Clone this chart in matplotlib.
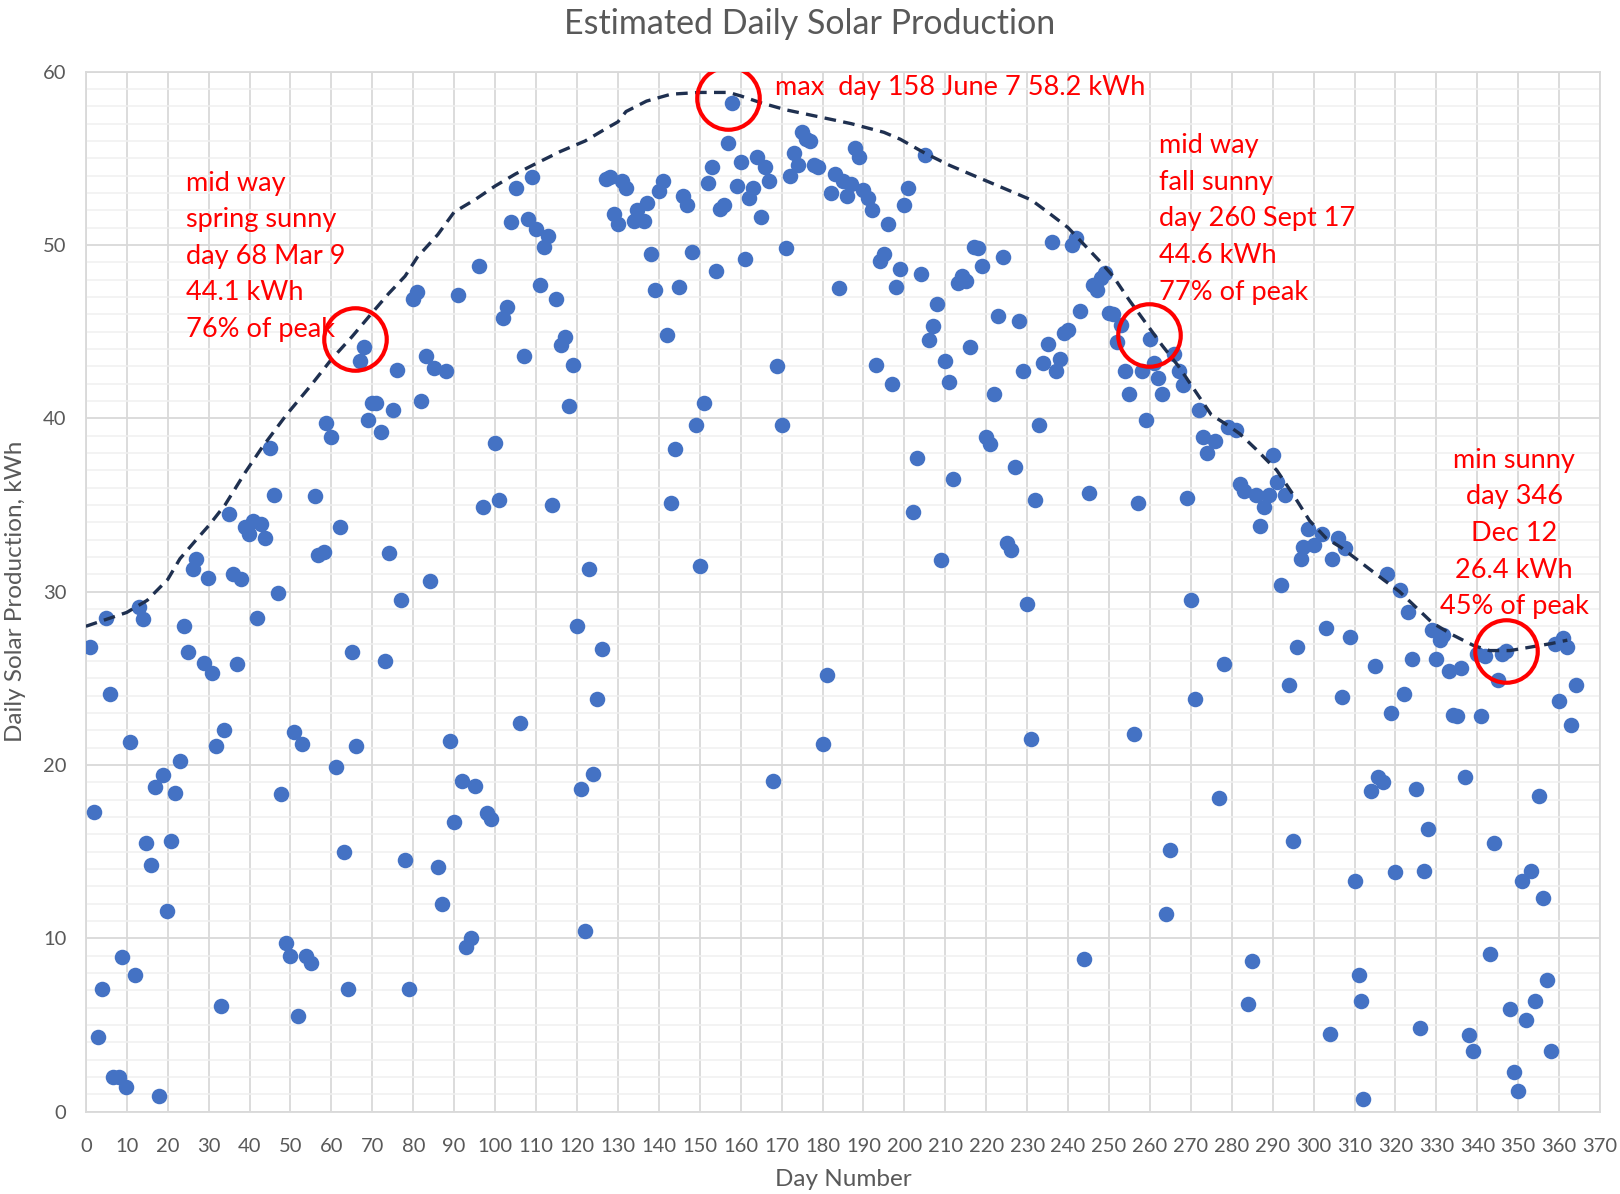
import matplotlib
matplotlib.use("Agg")
import matplotlib.pyplot as plt

plt.rcParams['font.family'] = ['Lato', 'DejaVu Sans']

# daily production (day number, kWh)
winter_days = [1, 2, 3, 4, 5, 6, 6.7, 8.1, 8.9, 9.9, 10.9, 12, 13, 14, 14.8, 15.9, 16.8, 17.9,
               18.9, 19.8, 20.9, 21.9, 22.9, 23.9, 25, 26.2, 27, 28.9, 29.8, 30.9, 31.9, 32.9,
               33.7, 35, 35.9, 36.9, 38, 39, 39.8, 40.8, 41.9, 42.8, 43.8, 44.9, 45.9, 46.9,
               47.7, 48.9, 49.9, 50.8, 51.8, 52.8, 53.8, 54.9, 55.9, 56.8, 58.1, 58.7, 59.9,
               61, 62, 63, 64, 65, 66]
winter_kwh = [26.8, 17.3, 4.3, 7.1, 28.5, 24.1, 2.0, 2.0, 8.9, 1.4, 21.3, 7.9, 29.1, 28.4, 15.5,
              14.2, 18.7, 0.9, 19.4, 11.6, 15.6, 18.4, 20.2, 28.0, 26.5, 31.3, 31.9, 25.9, 30.8,
              25.3, 21.1, 6.1, 22.0, 34.5, 31.0, 25.8, 30.7, 33.7, 33.3, 34.1, 28.5, 33.9, 33.1,
              38.3, 35.6, 29.9, 18.3, 9.7, 9.0, 21.9, 5.5, 21.2, 9.0, 8.6, 35.5, 32.1, 32.3,
              39.7, 38.9, 19.9, 33.7, 15.0, 7.1, 26.5, 21.1]

spring_days = [67, 68, 69, 70, 71, 72, 73, 74, 75, 76, 77, 78, 79, 80, 81, 82, 83, 84, 85, 86,
               87, 88, 89, 90, 91, 92, 93, 94, 95, 96, 97, 98, 99, 100, 101, 102, 103, 104, 105,
               106, 107, 108, 109, 110, 111, 112, 113, 114, 115, 116, 117, 118, 119, 120, 121,
               122, 123, 124, 125, 126]
spring_kwh = [43.3, 44.1, 39.9, 40.9, 40.9, 39.2, 26.0, 32.2, 40.5, 42.8, 29.5, 14.5, 7.1, 46.9,
              47.3, 41.0, 43.6, 30.6, 42.9, 14.1, 12.0, 42.7, 21.4, 16.7, 47.1, 19.1, 9.5, 10.0,
              18.8, 48.8, 34.9, 17.2, 16.9, 38.6, 35.3, 45.8, 46.4, 51.3, 53.3, 22.4, 43.6, 51.5,
              53.9, 50.9, 47.7, 49.9, 50.5, 35.0, 46.9, 44.2, 44.7, 40.7, 43.1, 28.0, 18.6, 10.4,
              31.3, 19.5, 23.8, 26.7]

summer_days = [127, 128, 129, 130, 131, 132, 134, 134.6, 136.3, 137, 138, 139, 140, 141, 142,
               143, 144, 145, 146, 147, 148, 149, 150, 151, 152, 153, 154, 155, 156, 157, 158,
               159, 160, 161, 162, 163, 164, 165, 166, 167, 168, 169, 170, 171, 172, 173, 174,
               175, 176, 177, 178, 179, 180, 181, 182, 183, 184, 185, 186, 187, 188, 189, 190,
               191, 192, 193, 194, 195, 196, 197, 198, 199, 200, 201, 202, 203, 204, 205, 206,
               207, 208, 209, 210, 211, 212, 213, 214, 215, 216, 217, 218, 219, 220, 221, 222,
               223, 224, 225, 226, 227, 228, 229, 230, 231, 232, 233, 234, 235, 236, 237, 238,
               239, 240, 241, 242, 243, 244, 245, 246, 247, 248, 249, 250, 251]
summer_kwh = [53.8, 53.9, 51.8, 51.2, 53.7, 53.3, 51.4, 52.0, 51.4, 52.4, 49.5, 47.4, 53.1, 53.7,
              44.8, 35.1, 38.2, 47.6, 52.8, 52.3, 49.6, 39.6, 31.5, 40.9, 53.6, 54.5, 48.5, 52.1,
              52.3, 55.9, 58.2, 53.4, 54.8, 49.2, 52.7, 53.3, 55.1, 51.6, 54.5, 53.7, 19.1, 43.0,
              39.6, 49.8, 54.0, 55.3, 54.6, 56.5, 56.1, 56.0, 54.6, 54.5, 21.2, 25.2, 53.0, 54.1,
              47.5, 53.7, 52.8, 53.5, 55.6, 55.1, 53.2, 52.7, 52.0, 43.1, 49.1, 49.5, 51.2, 42.0,
              47.6, 48.6, 52.3, 53.3, 34.6, 37.7, 48.3, 55.2, 44.5, 45.3, 46.6, 31.8, 43.3, 42.1,
              36.5, 47.8, 48.2, 47.9, 44.1, 49.9, 49.8, 48.8, 38.9, 38.5, 41.4, 45.9, 49.3, 32.8,
              32.4, 37.2, 45.6, 42.7, 29.3, 21.5, 35.3, 39.6, 43.2, 44.3, 50.2, 42.7, 43.4, 44.9,
              45.1, 50.0, 50.4, 46.2, 8.8, 35.7, 47.7, 47.4, 48.1, 48.4, 46.1, 46.0]

fall_days = [252, 253, 254, 255, 256, 257, 258, 259, 260, 261, 262, 263, 264, 265, 266, 267, 268,
             269, 270, 271, 272, 273, 274, 276, 277, 278, 279, 281, 282, 283, 284, 285, 286, 287,
             288, 289, 290, 291, 292, 293, 294, 295, 296, 297, 297.5, 298.6, 300, 302, 303, 304,
             304.5, 306, 307, 307.6, 309, 310, 311, 311.5, 312, 314, 315, 315.7, 317, 318, 319,
             320, 321, 322, 323, 324, 325, 326, 327, 328, 329, 330, 331, 331.5, 333, 334, 335,
             336, 337, 338, 339, 340, 341, 342, 343, 344, 345, 346, 347, 348, 349, 350, 351, 352,
             353, 354, 355, 356, 357, 358, 359, 360, 361, 362, 363, 364]
fall_kwh = [44.4, 45.4, 42.7, 41.4, 21.8, 35.1, 42.7, 39.9, 44.6, 43.2, 42.3, 41.4, 11.4, 15.1,
            43.7, 42.7, 41.9, 35.4, 29.5, 23.8, 40.5, 38.9, 38.0, 38.7, 18.1, 25.8, 39.5, 39.3,
            36.2, 35.8, 6.2, 8.7, 35.6, 33.8, 34.9, 35.6, 37.9, 36.3, 30.4, 35.6, 24.6, 15.6, 26.8,
            31.9, 32.6, 33.6, 32.7, 33.3, 27.9, 4.5, 31.9, 33.1, 23.9, 32.5, 27.4, 13.3, 7.9, 6.4,
            0.7, 18.5, 25.7, 19.3, 19.0, 31.0, 23.0, 13.8, 30.1, 24.1, 28.8, 26.1, 18.6, 4.8, 13.9,
            16.3, 27.8, 26.1, 27.2, 27.5, 25.4, 22.9, 22.8, 25.6, 19.3, 4.4, 3.5, 26.4, 22.8, 26.3,
            9.1, 15.5, 24.9, 26.4, 26.6, 5.9, 2.3, 1.2, 13.3, 5.3, 13.9, 6.4, 18.2, 12.3, 7.6, 3.5,
            27.0, 23.7, 27.3, 26.8, 22.3, 24.6]

# sunny-day estimate (dashed line)
trend_days = [0, 5, 10, 15, 20, 23, 27, 30, 34, 39, 43, 49, 55, 60, 65, 70, 74, 78, 81, 86, 90,
              95, 100, 105, 110, 116, 122, 127, 130, 132, 137, 143, 150, 157, 160, 165, 171, 179,
              187, 195, 199, 205, 211, 219, 225, 231, 235, 240, 244, 248, 251, 255, 259, 263, 267,
              271, 275, 279, 282, 286, 291, 295, 299, 303, 307, 312, 317, 321, 329, 334, 339, 343,
              348, 353, 358, 362]
trend_kwh = [28.0, 28.4, 28.8, 29.5, 30.7, 31.9, 33.0, 33.8, 35.0, 36.9, 38.3, 40.2, 41.9, 43.4,
             44.7, 46.1, 47.2, 48.2, 49.3, 50.6, 51.9, 52.6, 53.4, 54.1, 54.7, 55.4, 56.0, 56.7,
             57.1, 57.7, 58.3, 58.7, 58.8, 58.8, 58.6, 58.2, 57.8, 57.4, 57.0, 56.5, 56.1, 55.3,
             54.6, 53.8, 53.2, 52.6, 51.9, 51.0, 50.0, 49.0, 48.2, 46.8, 45.5, 44.2, 43.0, 41.6,
             40.2, 39.6, 39.1, 38.2, 37.0, 35.6, 34.1, 33.1, 32.5, 31.6, 30.7, 30.0, 28.2, 27.5,
             26.9, 26.6, 26.6, 26.8, 27.0, 27.2]

# red circles around the highlighted days
circle_days = [65.7, 156.8, 259.8, 347]
circle_kwh = [44.6, 58.5, 44.8, 26.6]

gray = '#595959'
fig = plt.figure(figsize=(16.2, 11.94), dpi=100)
ax = fig.add_axes([0.053, 0.069, 0.9347, 0.871])

for d, k in [(winter_days, winter_kwh), (spring_days, spring_kwh),
             (summer_days, summer_kwh), (fall_days, fall_kwh)]:
    ax.scatter(d, k, s=125, color='#4472C4', zorder=3, linewidths=0)

ax.plot(trend_days, trend_kwh, color='#1F3050', lw=2.4, ls=(0, (3.5, 2.2)), zorder=4)
ax.plot(circle_days, circle_kwh, ls='none', marker='o', ms=45, mfc='none',
        mec='#FF0000', mew=3, zorder=5)

ax.set_xlim(0, 370)
ax.set_ylim(0, 60)
ax.set_xticks(range(0, 371, 10))
ax.set_yticks(range(0, 61, 10))
ax.set_yticks(range(0, 61, 1), minor=True)
ax.grid(True, which='major', color='#D9D9D9', lw=1.3)
ax.grid(True, which='minor', axis='y', color='#F0F0F0', lw=1.1)
ax.set_axisbelow(True)
ax.tick_params(which='both', length=0, labelsize=14.5, colors=gray)
ax.tick_params(axis='x', pad=19)
ax.tick_params(axis='y', pad=14)
for s in ax.spines.values():
    s.set_color('#D9D9D9')
    s.set_linewidth(1.3)

ax.set_xlabel('Day Number', fontsize=17.5, color=gray, labelpad=10)
ax.set_ylabel('Daily Solar Production, kWh', fontsize=17.5, color=gray, labelpad=12)
fig.suptitle('Estimated Daily Solar Production', fontsize=24.5, color=gray, y=0.993)

red = '#FF0000'
fs = 19.5
ax.text(24.5, 49.35, 'mid way\nspring sunny\nday 68 Mar 9\n44.1 kWh\n76% of peak',
        color=red, fontsize=fs, va='center', ha='left', linespacing=1.58)
ax.text(168.5, 59.1, 'max  day 158 June 7 58.2 kWh', color=red, fontsize=fs,
        va='center', ha='left')
ax.text(262.3, 51.5, 'mid way\nfall sunny\nday 260 Sept 17\n44.6 kWh\n77% of peak',
        color=red, fontsize=fs, va='center', ha='left', linespacing=1.58)
ax.text(349, 33.35, 'min sunny\nday 346\nDec 12\n26.4 kWh\n45% of peak',
        color=red, fontsize=fs, va='center', ha='center', linespacing=1.58)

fig.savefig('out.png', dpi=100)
